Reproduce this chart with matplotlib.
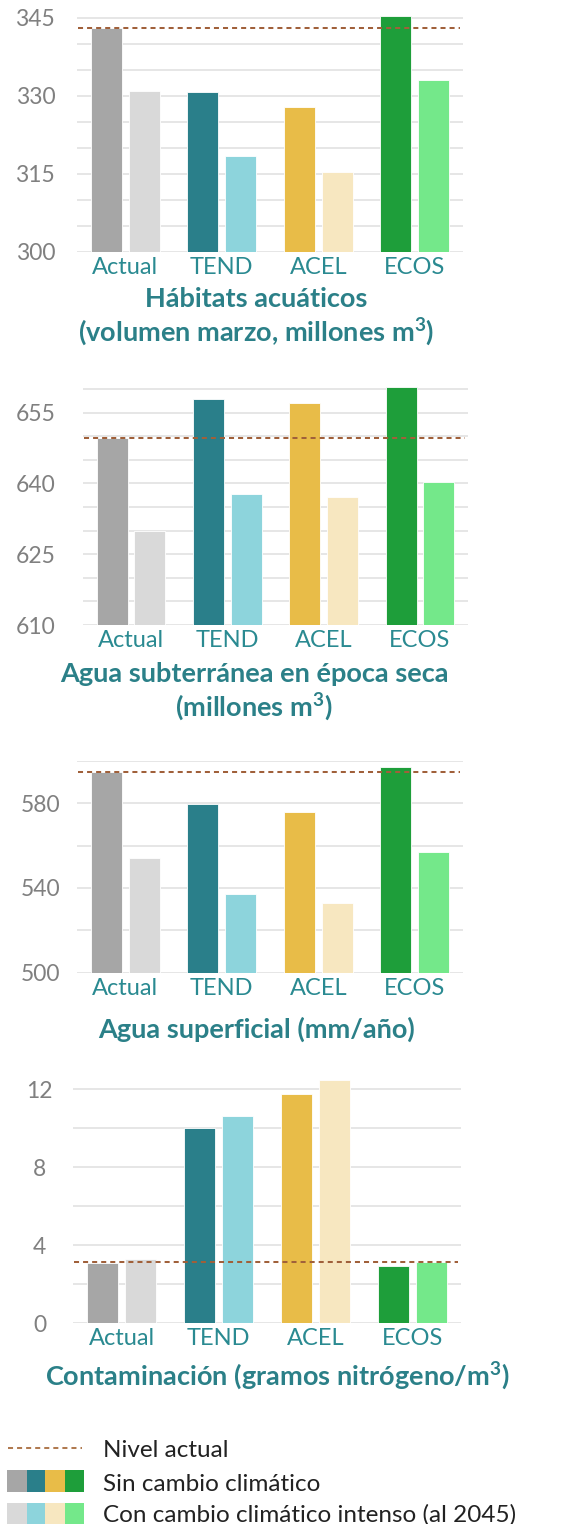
import matplotlib
matplotlib.use("Agg")
import matplotlib.pyplot as plt
from matplotlib.patches import Rectangle
from matplotlib.lines import Line2D
import numpy as np

plt.rcParams['font.family'] = ['Lato', 'DejaVu Sans']
plt.rcParams['mathtext.fontset'] = 'custom'
plt.rcParams['mathtext.rm'] = 'Lato'
plt.rcParams['mathtext.bf'] = 'Lato:bold'

# ---------------- data ----------------
categories = ["Actual", "TEND", "ACEL", "ECOS"]

hab_sin = [343.0, 330.7, 327.8, 345.3]
hab_con = [331.0, 318.5, 315.4, 333.0]
hab_ref = 343.1

sub_sin = [649.6, 657.8, 657.0, 660.5]
sub_con = [630.0, 637.8, 637.1, 640.4]
sub_ref = 649.6

sup_sin = [594.5, 579.6, 575.8, 597.2]
sup_con = [554.0, 537.0, 533.0, 556.8]
sup_ref = 594.8

con_sin = [3.1, 10.0, 11.76, 2.95]
con_con = [3.28, 10.63, 12.48, 3.14]
con_ref = 3.13

titles = [
    ["Hábitats acuáticos", r"(volumen marzo, millones m$^{\mathbf{3}}$)"],
    ["Agua subterránea en época seca", r"(millones m$^{\mathbf{3}}$)"],
    ["Agua superficial (mm/año)"],
    [r"Contaminación (gramos nitrógeno/m$^{\mathbf{3}}$)"],
]

legend_labels = ["Nivel actual", "Sin cambio climático",
                 "Con cambio climático intenso (al 2045)"]

dark_colors = ["#a6a6a6", "#2a7f8a", "#e8bc48", "#1e9e3a"]
light_colors = ["#d9d9d9", "#8dd4dc", "#f7e7c0", "#74e88a"]
ref_color = "#a0603a"
title_color = "#2b8088"
cat_color = "#2a8a91"
tick_color = "#808080"
grid_color = "#e2e2e2"

W, H = 567, 1524
fig = plt.figure(figsize=(W / 100, H / 100), dpi=100)

# panel layout in pixels: left, right, top, bottom
panels = [
    dict(sin=hab_sin, con=hab_con, ref=hab_ref, ylim=(300, 345.4),
         major=[300, 315, 330, 345], minor_step=5,
         box=(77, 463, 15.9, 252), pad=30, title_x=256, title_y=[307, 341.5]),
    dict(sin=sub_sin, con=sub_con, ref=sub_ref, ylim=(610, 660.7),
         major=[610, 625, 640, 655], minor_step=5,
         box=(83, 468, 385.7, 625), pad=34, title_x=254, title_y=[681.5, 716]),
    dict(sin=sup_sin, con=sup_con, ref=sup_ref, ylim=(500, 600),
         major=[500, 540, 580], minor_step=20,
         box=(77, 463, 760.7, 972.7), pad=26.5, title_x=256.5, title_y=[1037.5]),
    dict(sin=con_sin, con=con_con, ref=con_ref, ylim=(0, 12.5),
         major=[0, 4, 8, 12], minor_step=2,
         box=(73, 461, 1079.6, 1323.3), pad=24, title_x=277, title_y=[1385]),
]

x = np.arange(len(categories))
bw = 0.32
off = 0.195

for i, p in enumerate(panels):
    l, r, t, b = p["box"]
    ax = fig.add_axes([l / W, 1 - b / H, (r - l) / W, (b - t) / H])
    ax.bar(x - off, p["sin"], width=bw, color=dark_colors, zorder=2,
           edgecolor="white", linewidth=0.6)
    ax.bar(x + off, p["con"], width=bw, color=light_colors, zorder=2,
           edgecolor="white", linewidth=0.6)
    ax.axhline(p["ref"], color=ref_color, lw=1.45, linestyle=(0, (2.5, 2.0)),
               zorder=3, xmin=0.002, xmax=0.992)
    ax.set_xlim(-0.5, 3.5)
    ax.set_ylim(*p["ylim"])
    ax.set_yticks(p["major"])
    lo, hi = p["ylim"]
    ax.set_yticks(np.arange(lo, hi + 0.01, p["minor_step"]), minor=True)
    ax.grid(True, axis="y", which="both", color=grid_color, lw=1.2, zorder=0)
    ax.set_axisbelow(True)
    for s in ax.spines.values():
        s.set_visible(False)
    ax.tick_params(axis="y", which="both", length=0, pad=p["pad"],
                   labelsize=16.5, labelcolor=tick_color)
    for lab in ax.get_yticklabels():
        lab.set_horizontalalignment("center")
    ax.set_xticks(x)
    ax.set_xticklabels(categories)
    ax.tick_params(axis="x", length=0, pad=3.5, labelsize=17, labelcolor=cat_color)

# overlay axes in pixel coordinates for titles and legend
ov = fig.add_axes([0, 0, 1, 1])
ov.set_xlim(0, W)
ov.set_ylim(H, 0)
ov.axis("off")

for p, tl in zip(panels, titles):
    for line, yb in zip(tl, p["title_y"]):
        ov.text(p["title_x"], yb, line, ha="center", va="baseline",
                fontsize=19.5, fontweight="bold", color=title_color)

# legend
ov.add_line(Line2D([8, 82], [1447.7, 1447.7], color="#b07a50", lw=1.45,
                   linestyle=(0, (2.5, 2.0))))
ov.text(103, 1456.7, legend_labels[0], fontsize=17.5, color="#222222", va="baseline")
sw_x = [7.3, 26.7, 45.3, 64.7, 84.0]
for k in range(4):
    ov.add_patch(Rectangle((sw_x[k], 1470), sw_x[k + 1] - sw_x[k], 21.7,
                           color=dark_colors[k], lw=0))
    ov.add_patch(Rectangle((sw_x[k], 1502.7), sw_x[k + 1] - sw_x[k], 21.3,
                           color=light_colors[k], lw=0))
ov.text(103, 1490.7, legend_labels[1], fontsize=17.5, color="#222222", va="baseline")
ov.text(103, 1521.7, legend_labels[2], fontsize=17.5, color="#222222", va="baseline")

fig.savefig("out.png", dpi=100)
